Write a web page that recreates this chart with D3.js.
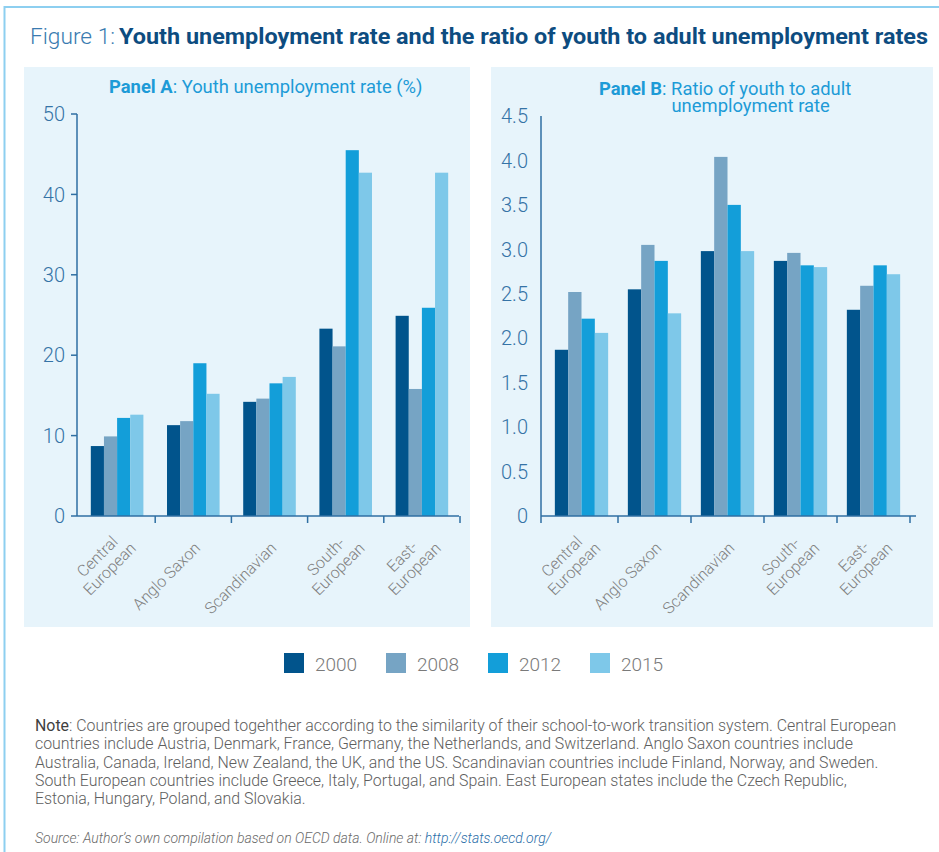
<!DOCTYPE html>
<html>
<head>
<meta charset="utf-8">
<script src="https://cdn.jsdelivr.net/npm/d3@7"></script>
<style>
  html, body { margin: 0; padding: 0; background: #ffffff; }
  svg { display: block; font-family: Roboto, "Open Sans", "DejaVu Sans", sans-serif; }
</style>
</head>
<body>
<svg id="chart" width="939" height="852"></svg>
<script>
// Country groups and their axis labels (line breaks as printed)
const groups = ["Central European", "Anglo Saxon", "Scandinavian", "South-European", "East-European"];
const groupLabelLines = [["Central", "European"], ["Anglo Saxon"], ["Scandinavian"], ["South-", "European"], ["East-", "European"]];

// Survey years (series)
const years = ["2000", "2008", "2012", "2015"];

// Panel A: youth unemployment rate (%), one row per group, one value per year
const youthRate = [
  [8.7, 9.9, 12.2, 12.6],
  [11.3, 11.8, 19.0, 15.2],
  [14.2, 14.6, 16.5, 17.3],
  [23.3, 21.1, 45.5, 42.7],
  [24.9, 15.8, 25.9, 42.7]
];

// Panel B: ratio of youth to adult unemployment rate
const youthAdultRatio = [
  [1.87, 2.52, 2.22, 2.06],
  [2.55, 3.05, 2.87, 2.28],
  [2.98, 4.04, 3.50, 2.98],
  [2.87, 2.96, 2.82, 2.80],
  [2.32, 2.59, 2.82, 2.72]
];

// Axis tick values
const rateTicks = [0, 10, 20, 30, 40, 50];
const ratioTicks = [0, 0.5, 1.0, 1.5, 2.0, 2.5, 3.0, 3.5, 4.0, 4.5];

// Series colours
const yearColors = ["#01548c", "#76a4c4", "#139ed9", "#7ec8e9"];

const noteLines = [
  "Countries are grouped togehther according to the similarity of their school-to-work transition system. Central European",
  "countries include Austria, Denmark, France, Germany, the Netherlands, and Switzerland. Anglo Saxon countries include",
  "Australia, Canada, Ireland, New Zealand, the UK, and the US. Scandinavian countries include Finland, Norway, and Sweden.",
  "South European countries include Greece, Italy, Portugal, and Spain. East European states include the Czech Republic,",
  "Estonia, Hungary, Poland, and Slovakia."
];

const svg = d3.select("#chart");

// Outer frame (top and left rule)
svg.append("path")
  .attr("d", "M4.5,852V7H939")
  .attr("fill", "none")
  .attr("stroke", "#8dcff0")
  .attr("stroke-width", 2);

// Figure title
svg.append("text")
  .attr("x", 30).attr("y", 44)
  .attr("font-size", 22).attr("font-weight", 300)
  .attr("fill", "#3a7bb0")
  .attr("textLength", 85).attr("lengthAdjust", "spacingAndGlyphs")
  .text("Figure 1:");
svg.append("text")
  .attr("x", 119).attr("y", 44)
  .attr("font-size", 22).attr("font-weight", 700)
  .attr("fill", "#0d4c80")
  .attr("textLength", 809).attr("lengthAdjust", "spacingAndGlyphs")
  .text("Youth unemployment rate and the ratio of youth to adult unemployment rates");

const panels = [
  {
    titleBold: "Panel A", titleRest: " Youth unemployment rate (%)", titleLine2: null,
    titleX: 109, titleY: 93,
    values: youthRate, ticks: rateTicks, domain: [0, 50], fmt: d => String(d),
    bg: { x: 24, y: 67, w: 446, h: 560 },
    xRange: [79, 460], padInner: 0.31, yRange: [516, 114],
    axisX: 77, axisEnd: 459, tickMarks: true, originTick: false, labelRight: 65
  },
  {
    titleBold: "Panel B", titleRest: " Ratio of youth to adult", titleLine2: "unemployment rate",
    titleX: 599, titleY: 95,
    values: youthAdultRatio, ticks: ratioTicks, domain: [0, 4.5], fmt: d => d === 0 ? "0" : d.toFixed(1),
    bg: { x: 491, y: 67, w: 442, h: 560 },
    xRange: [545, 910], padInner: 0.27, yRange: [516, 116],
    axisX: 541, axisEnd: 916, tickMarks: false, originTick: true, labelRight: 528
  }
];

const axisColor = "#2f6fa3";
const headSize = 18.4;

panels.forEach(p => {
  const g = svg.append("g");

  g.append("rect")
    .attr("x", p.bg.x).attr("y", p.bg.y)
    .attr("width", p.bg.w).attr("height", p.bg.h)
    .attr("fill", "#e7f4fb");

  // Panel heading
  const t = g.append("text")
    .attr("x", p.titleX).attr("y", p.titleY)
    .attr("font-size", headSize).attr("fill", "#1d9bd7");
  const bold = t.append("tspan").attr("font-weight", 700).text(p.titleBold);
  const colon = t.append("tspan").attr("font-weight", 400).text(":");
  t.append("tspan").attr("font-weight", 400).text(p.titleRest);
  if (p.titleLine2) {
    const indent = bold.node().getComputedTextLength() + colon.node().getComputedTextLength() + 5;
    g.append("text")
      .attr("x", p.titleX + indent).attr("y", p.titleY + 17)
      .attr("font-size", headSize).attr("fill", "#1d9bd7")
      .text(p.titleLine2);
  }

  const x = d3.scaleBand().domain(groups).range(p.xRange)
    .paddingInner(p.padInner).paddingOuter(p.padInner / 2);
  const xi = d3.scaleBand().domain(years).range([0, x.bandwidth()]);
  const y = d3.scaleLinear().domain(p.domain).range(p.yRange);

  // Bars
  groups.forEach((grp, gi) => {
    g.append("g")
      .attr("transform", `translate(${x(grp)},0)`)
      .selectAll("rect")
      .data(years.map((yr, yi) => ({ yr, v: p.values[gi][yi], c: yearColors[yi] })))
      .join("rect")
      .attr("x", d => xi(d.yr))
      .attr("width", xi.bandwidth())
      .attr("y", d => y(d.v))
      .attr("height", d => y(0) - y(d.v))
      .attr("fill", d => d.c);
  });

  // Y axis
  const y0 = y(0);
  g.append("line")
    .attr("x1", p.axisX).attr("x2", p.axisX)
    .attr("y1", y(p.domain[1])).attr("y2", y0 + (p.originTick ? 7 : 0))
    .attr("stroke", axisColor).attr("stroke-width", 1.5);
  p.ticks.forEach(v => {
    if (p.tickMarks) {
      g.append("line")
        .attr("x1", p.axisX - 6).attr("x2", p.axisX)
        .attr("y1", y(v)).attr("y2", y(v))
        .attr("stroke", axisColor).attr("stroke-width", 1.5);
    }
    g.append("text")
      .attr("x", p.labelRight).attr("y", y(v))
      .attr("dy", "0.36em")
      .attr("text-anchor", "end")
      .attr("font-size", 20).attr("font-weight", 300)
      .attr("fill", "#3573a6")
      .text(p.fmt(v));
  });

  // X axis line with ticks on group boundaries
  g.append("line")
    .attr("x1", p.axisX).attr("x2", p.axisEnd)
    .attr("y1", y0).attr("y2", y0)
    .attr("stroke", axisColor).attr("stroke-width", 1.5);
  const step = x.step();
  groups.map(grp => x(grp) + x.bandwidth() + step * p.padInner / 2)
    .forEach(bx => {
      g.append("line")
        .attr("x1", bx).attr("x2", bx)
        .attr("y1", y0).attr("y2", y0 + 7)
        .attr("stroke", axisColor).attr("stroke-width", 1.5);
    });

  // Rotated category labels
  groups.forEach((grp, gi) => {
    const cx = x(grp) + x.bandwidth() / 2;
    const lines = groupLabelLines[gi];
    const lab = g.append("text")
      .attr("transform", `translate(${cx + 4},545) rotate(-45)`)
      .attr("font-size", 16).attr("font-weight", 300)
      .attr("fill", "#808080");
    if (lines.length === 1) {
      lab.attr("text-anchor", "end")
        .append("tspan").attr("x", 0).attr("y", 0).attr("dy", "0.35em").text(lines[0]);
    } else {
      lab.attr("text-anchor", "middle");
      lines.forEach((ln, li) => {
        lab.append("tspan")
          .attr("x", -25)
          .attr("y", (li - (lines.length - 1) / 2) * 17.5)
          .attr("dy", "0.35em")
          .text(ln);
      });
    }
  });
});

// Legend
const legend = svg.append("g").attr("transform", "translate(284,653)");
years.forEach((yr, i) => {
  const item = legend.append("g").attr("transform", `translate(${i * 102},0)`);
  item.append("rect").attr("width", 20).attr("height", 20).attr("fill", yearColors[i]);
  item.append("text")
    .attr("x", 31).attr("y", 18)
    .attr("font-size", 19).attr("font-weight", 300)
    .attr("fill", "#7a7a7a")
    .text(yr);
});

// Note block
const noteSize = 14;
const noteText = svg.append("text")
  .attr("font-size", noteSize).attr("font-weight", 300).attr("fill", "#5e5e5e");
noteLines.forEach((ln, i) => {
  const t = noteText.append("tspan").attr("x", 35).attr("y", 731 + i * 18.3);
  if (i === 0) {
    t.append("tspan").attr("font-weight", 400).attr("fill", "#3f3f3f").text("Note");
    t.append("tspan").text(": " + ln);
  } else {
    t.text(ln);
  }
});
// Fit the paragraph to its column width
const natural = noteText.select("tspan").node().getComputedTextLength();
noteText.attr("font-size", noteSize * 862 / natural);

const src = svg.append("text")
  .attr("x", 35).attr("y", 843)
  .attr("font-size", 14).attr("font-style", "italic").attr("font-weight", 300)
  .attr("fill", "#6a6a6a");
src.append("tspan").text("Source: Author’s own compilation based on OECD data. Online at: ");
src.append("tspan").attr("fill", "#2a6ea8").text("http://stats.oecd.org/");
</script>
</body>
</html>
